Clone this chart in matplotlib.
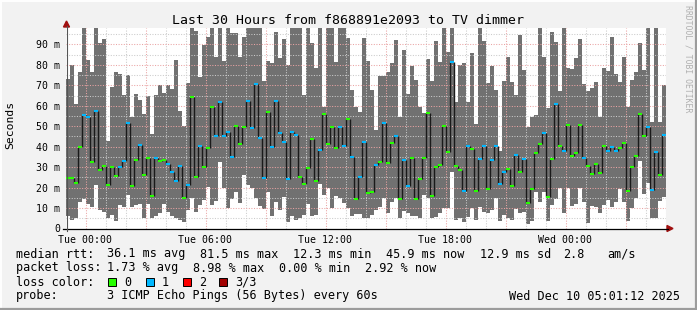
import matplotlib
matplotlib.use('Agg')
import matplotlib.pyplot as plt
from matplotlib.lines import Line2D
from matplotlib.patches import Rectangle, Polygon

plt.rcParams['font.family'] = 'DejaVu Sans Mono'

W, H = 697, 310

# 12 minute consolidation steps, hours relative to Tue 00:00
start_hour = -0.975
step_hour = 0.2

# smoke band (max / min of the 3 pings), ms
smoke_max = [73.0, 79.9, 61.1, 76.3, 99, 82.3, 76.3, 99, 90.8, 92.9,
             42.7, 69.1, 76.3, 75.8, 65.2, 75.3, 54.5, 65.9, 62.8, 55.8,
             64.9, 46.0, 65.2, 70.4, 66.2, 70.1, 68.1, 82.3, 57.4, 50.2,
             71.1, 99, 96.5, 74.2, 89.7, 93.6, 99, 84.0, 99, 82.0,
             99, 95.4, 95.4, 84.0, 93.8, 99, 99, 99, 99, 72.2,
             81.8, 81.0, 96.2, 83.5, 92.6, 79.9, 99, 99, 99, 65.2,
             99, 90.5, 78.6, 99, 59.5, 99, 99, 81.5, 99, 99,
             93.3, 67.7, 59.5, 57.1, 93.3, 81.8, 67.7, 48.1, 74.5, 74.5,
             76.6, 81.0, 92.1, 54.6, 87.2, 66.0, 79.4, 72.6, 59.5, 56.7,
             82.8, 72.1, 91.6, 81.5, 99, 86.4, 99, 61.9, 80.2, 80.7,
             61.9, 85.6, 50.9, 99, 91.6, 71.3, 79.6, 67.7, 37.8, 72.1,
             84.0, 71.7, 65.2, 94.6, 77.4, 49.7, 54.6, 55.4, 99, 84.0,
             58.7, 95.9, 91.3, 67.2, 99, 78.6, 77.9, 83.2, 92.6, 70.9,
             67.3, 68.5, 71.7, 54.6, 78.3, 77.1, 93.8, 75.8, 71.7, 84.0,
             59.5, 72.6, 76.6, 90.5, 77.4, 99, 52.2, 99, 52.2, 70.1]

smoke_min = [6.0, 4.4, 4.9, 13.0, 14.3, 12.2, 10.6, 21.2, 9.0, 8.1,
             5.2, 6.5, 3.7, 11.4, 10.6, 16.3, 10.6, 11.4, 12.2, 4.9,
             11.9, 5.2, 6.0, 7.8, 12.2, 8.1, 6.0, 4.9, 4.4, 3.2,
             9.0, 14.7, 8.1, 11.4, 13.8, 20.2, 11.4, 13.4, 32.6, 20.0,
             9.8, 14.3, 17.9, 12.5, 26.1, 21.2, 20.0, 14.7, 11.1, 9.3,
             17.9, 6.2, 13.0, 9.0, 15.3, 3.2, 6.2, 4.4, 5.2, 6.5,
             12.2, 6.2, 6.8, 22.0, 16.3, 20.0, 10.1, 16.0, 14.7, 12.4,
             10.1, 6.0, 7.0, 7.0, 4.9, 5.2, 6.5, 9.0, 10.6, 15.0,
             7.6, 13.0, 15.0, 5.2, 8.8, 7.8, 6.2, 6.2, 5.2, 16.6,
             14.7, 4.9, 5.7, 7.6, 10.1, 9.8, 27.7, 4.1, 4.9, 3.2,
             5.7, 10.1, 4.4, 10.6, 8.1, 7.6, 9.0, 14.7, 3.7, 6.8,
             4.9, 4.1, 9.3, 7.8, 8.1, 2.4, 3.6, 17.9, 13.0, 17.9,
             3.6, 11.4, 14.3, 19.6, 7.6, 19.6, 10.9, 12.0, 19.6, 13.0,
             2.7, 11.1, 10.6, 7.6, 11.4, 13.8, 10.6, 13.0, 19.2, 13.0,
             3.7, 10.1, 15.0, 32.9, 17.1, 22.2, 4.9, 5.2, 13.4, 15.5]

median_rtt = [24.8, 24.8, 22.2, 39.8, 55.4, 54.4, 32.6, 57.4, 28.7, 30.6,
              21.2, 30.0, 25.6, 30.0, 32.9, 51.5, 20.7, 33.4, 40.8, 26.1,
              34.6, 15.8, 34.6, 32.9, 33.6, 31.6, 27.5, 23.1, 30.6, 15.0,
              21.2, 64.4, 25.1, 40.4, 30.0, 39.3, 59.5, 45.3, 61.8, 45.3,
              47.1, 34.9, 50.2, 41.4, 49.6, 62.3, 49.1, 70.8, 44.3, 24.6,
              56.9, 39.8, 62.3, 46.6, 42.4, 24.1, 47.1, 45.8, 25.1, 21.7,
              29.7, 43.7, 23.1, 38.3, 55.9, 41.4, 49.6, 39.3, 49.6, 40.4,
              53.5, 34.9, 14.5, 25.1, 42.2, 17.3, 17.9, 31.0, 32.6, 51.5,
              32.1, 41.7, 45.3, 14.5, 33.6, 20.9, 34.6, 14.5, 24.1, 34.6,
              56.4, 16.0, 30.0, 31.0, 50.2, 37.5, 81.5, 30.6, 28.7, 18.1,
              40.4, 38.8, 18.4, 33.9, 40.4, 19.4, 33.6, 40.4, 21.8, 27.7,
              29.0, 20.9, 35.9, 27.7, 34.1, 12.4, 19.4, 37.0, 41.4, 46.6,
              15.3, 34.1, 61.0, 40.4, 37.8, 50.7, 35.5, 37.0, 50.7, 34.6,
              30.6, 26.7, 31.6, 27.2, 40.4, 37.8, 39.8, 37.8, 39.5, 41.9,
              18.4, 30.0, 35.5, 56.1, 45.3, 49.6, 18.9, 37.3, 26.1, 45.8]

# lost pings per step (out of 3)
loss = [0, 0, 0, 0, 1, 1, 0, 1, 0, 0,
        0, 0, 0, 1, 1, 1, 0, 0, 1, 0,
        0, 0, 1, 0, 0, 1, 1, 1, 1, 0,
        1, 0, 0, 1, 0, 0, 0, 1, 1, 1,
        1, 1, 0, 0, 0, 1, 1, 1, 1, 1,
        0, 1, 1, 1, 1, 1, 1, 1, 0, 0,
        0, 0, 0, 1, 0, 0, 0, 0, 1, 1,
        0, 1, 0, 1, 1, 0, 0, 1, 0, 1,
        0, 0, 1, 0, 1, 1, 0, 0, 0, 0,
        0, 0, 0, 0, 0, 0, 1, 0, 0, 1,
        1, 0, 0, 1, 1, 0, 1, 1, 1, 1,
        0, 0, 1, 0, 1, 0, 0, 0, 0, 1,
        0, 0, 1, 0, 1, 0, 0, 0, 0, 1,
        0, 0, 0, 0, 0, 1, 1, 1, 0, 0,
        0, 0, 0, 0, 0, 1, 1, 1, 0, 1]

loss_colors = ['#26ff00', '#00b8ff', '#ff0000', '#a10000']
loss_labels = ['0', '1', '2', '3/3']

time_ticks = [0, 6, 12, 18, 24]
time_labels = ['Tue 00:00', 'Tue 06:00', 'Tue 12:00', 'Tue 18:00', 'Wed 00:00']
y_ticks = [0, 10, 20, 30, 40, 50, 60, 70, 80, 90]
y_labels = ['0'] + [f'{v} m' for v in y_ticks[1:]]

stats_rtt = ['36.1 ms avg', '81.5 ms max', '12.3 ms min', '45.9 ms now', '12.9 ms sd', '2.8', 'am/s']
stats_loss = ['1.73 % avg', '8.98 % max', '0.00 % min', '2.92 % now']

SMOKE = '#717171'
BG = '#f2f2f2'


def fx(x):
    return x / W


def fy(y):
    return 1 - y / H


fig = plt.figure(figsize=(W / 100, H / 100), dpi=100, facecolor=BG)
ax = fig.add_axes([fx(66), fy(228.5), 600 / W, 200.8 / H])
ax.set_facecolor('white')
n = len(smoke_max)
ax.set_xlim(start_hour, start_hour + n * step_hour)
ax.set_ylim(0, 98.2)

xs = [start_hour + i * step_hour for i in range(n)]

# smoke
ax.bar(xs, [mx - mn for mx, mn in zip(smoke_max, smoke_min)], bottom=smoke_min,
       width=step_hour, align='edge', color=SMOKE, linewidth=0,
       antialiased=False, zorder=2)

# grid on top of the smoke
for h in range(0, 30):
    major = h % 3 == 0
    ax.axvline(h, color='#eaa4a4' if major else '#cbcbcb', lw=0.75,
               ls=(0, (1, 1.5)), zorder=3)
for v in range(5, 100, 5):
    major = v % 10 == 0
    ax.axhline(v, color='#eaa4a4' if major else '#cbcbcb', lw=0.75,
               ls=(0, (1, 1.5)), zorder=3)

# median: black connectors, coloured level per loss
for i in range(n - 1):
    lo, hi = sorted((median_rtt[i], median_rtt[i + 1]))
    ax.vlines(xs[i + 1], lo, hi, color='#1a1a1a', lw=1.0, zorder=4)
ax.hlines(median_rtt, xs, [x + step_hour for x in xs],
          colors=[loss_colors[l] for l in loss], lw=1.5, zorder=5,
          capstyle='butt')

for s in ax.spines.values():
    s.set_visible(False)
ax.set_xticks(time_ticks)
ax.set_xticklabels(time_labels, fontsize=7.1)
ax.set_yticks(y_ticks)
ax.set_yticklabels(y_labels, fontsize=7.1)
ax.tick_params(axis='both', length=0, colors='black')
ax.tick_params(axis='x', pad=4.5)
ax.tick_params(axis='y', pad=4.3)

# axes lines and arrows
fig.add_artist(Line2D([fx(63), fx(668)], [fy(228.5), fy(228.5)], color='black', lw=0.9))
fig.add_artist(Line2D([fx(66.5), fx(66.5)], [fy(231), fy(26)], color='#555555', lw=0.8))
fig.add_artist(Polygon([[fx(667), fy(225.5)], [fx(673), fy(228.5)], [fx(667), fy(231.5)]],
                       closed=True, color='#a01010'))
fig.add_artist(Polygon([[fx(63.5), fy(27)], [fx(66.5), fy(21)], [fx(69.5), fy(27)]],
                       closed=True, color='#a01010'))

# texts
fig.text(fx(348), fy(24), 'Last 30 Hours from f868891e2093 to TV dimmer',
         ha='center', va='baseline', fontsize=9.55)
fig.text(fx(10), fy(125), 'Seconds', rotation=90, ha='center', va='center', fontsize=8.2)
fig.text(fx(688), fy(59), 'RRDTOOL / TOBI OETIKER', rotation=270, ha='center',
         va='center', fontsize=5.9, color='#b0b0b0')

LF = 8.5
rtt_x = [107.3, 200, 293.3, 386.4, 479.5, 563, 607]
loss_x = [107.3, 193, 279.3, 365]
fig.text(fx(16), fy(257.5), 'median rtt:', fontsize=LF, va='baseline')
for x, s in zip(rtt_x, stats_rtt):
    fig.text(fx(x), fy(257.5), s, fontsize=LF, va='baseline')
fig.text(fx(16), fy(271.5), 'packet loss:', fontsize=LF, va='baseline')
for x, s in zip(loss_x, stats_loss):
    fig.text(fx(x), fy(271.5), s, fontsize=LF, va='baseline')
fig.text(fx(16), fy(285.5), 'loss color:', fontsize=LF, va='baseline')
box_x = [108.3, 145.7, 182.7, 219]
for x, c, lab in zip(box_x, loss_colors, loss_labels):
    fig.add_artist(Rectangle((fx(x), fy(286)), 8 / W, 8 / H, facecolor=c,
                             edgecolor='black', lw=0.7))
    fig.text(fx(x + 16), fy(285.5), lab, fontsize=LF, va='baseline')
fig.text(fx(16), fy(299.5), 'probe:', fontsize=LF, va='baseline')
fig.text(fx(107.3), fy(299.5), '3 ICMP Echo Pings (56 Bytes) every 60s',
         fontsize=LF, va='baseline')
fig.text(fx(680), fy(299.5), 'Wed Dec 10 05:01:12 2025', fontsize=LF,
         va='baseline', ha='right')

# 3d frame
fig.add_artist(Line2D([0, 1], [fy(0.5), fy(0.5)], color='white', lw=1.4))
fig.add_artist(Line2D([fx(0.5), fx(0.5)], [0, 1], color='white', lw=1.4))
fig.add_artist(Line2D([0, 1], [fy(309), fy(309)], color='#9c9c9c', lw=1.6))
fig.add_artist(Line2D([fx(696), fx(696)], [0, 1], color='#9c9c9c', lw=1.6))

fig.savefig('out.png', dpi=100, facecolor=BG)
